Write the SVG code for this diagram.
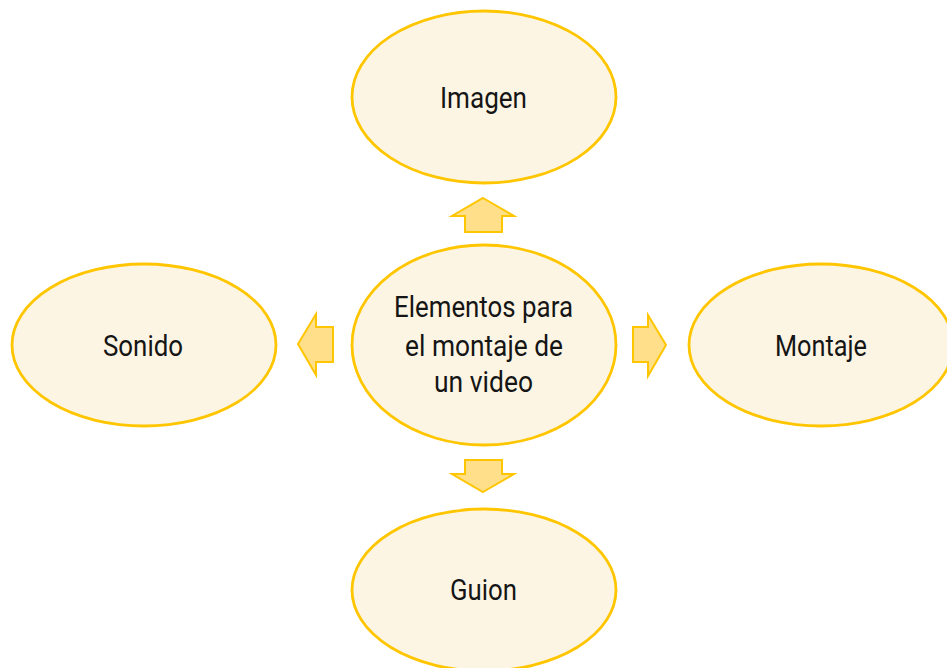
<svg xmlns="http://www.w3.org/2000/svg" width="947" height="668" viewBox="0 0 947 668">
<style>
.node{fill:#FDF5E4;stroke:#FFC600;stroke-width:2.8}
.arr{fill:#FFDF8A;stroke:#FFC600;stroke-width:2;stroke-linejoin:miter}
.t{font-family:Roboto,"Liberation Sans",sans-serif;font-size:29px;fill:#151515;text-anchor:middle}
</style>
<rect width="947" height="668" fill="#FFFFFF"/>
<g id="connectors">
<polygon class="arr" points="483,198 514,216 502,216 502,232 465,232 465,216 452,216"/>
<polygon class="arr" points="298,344 316,314 316,327 333,327 333,362 316,362 316,375"/>
<polygon class="arr" points="666,345 648,315 648,327 633,327 633,362 648,362 648,376"/>
<polygon class="arr" points="483,492 514,474 502,474 502,460 465,460 465,474 452,474"/>
</g>
<g id="node-center">
<ellipse class="node" cx="484" cy="345" rx="132" ry="100"/>
<text class="t" x="483.5" y="317" textLength="179" lengthAdjust="spacingAndGlyphs">Elementos para</text>
<text class="t" x="484" y="356" textLength="158" lengthAdjust="spacingAndGlyphs">el montaje de</text>
<text class="t" x="483.5" y="392" textLength="99" lengthAdjust="spacingAndGlyphs">un video</text>
</g>
<g id="node-imagen">
<ellipse class="node" cx="484" cy="97" rx="132" ry="86"/>
<text class="t" x="483.5" y="108" textLength="87" lengthAdjust="spacingAndGlyphs">Imagen</text>
</g>
<g id="node-sonido">
<ellipse class="node" cx="144" cy="345" rx="132" ry="81"/>
<text class="t" x="143" y="356" textLength="80" lengthAdjust="spacingAndGlyphs">Sonido</text>
</g>
<g id="node-montaje">
<ellipse class="node" cx="821" cy="345" rx="132" ry="81"/>
<text class="t" x="821" y="356" textLength="92" lengthAdjust="spacingAndGlyphs">Montaje</text>
</g>
<g id="node-guion">
<ellipse class="node" cx="484" cy="590" rx="132" ry="81"/>
<text class="t" x="483.5" y="600" textLength="67" lengthAdjust="spacingAndGlyphs">Guion</text>
</g>
</svg>
